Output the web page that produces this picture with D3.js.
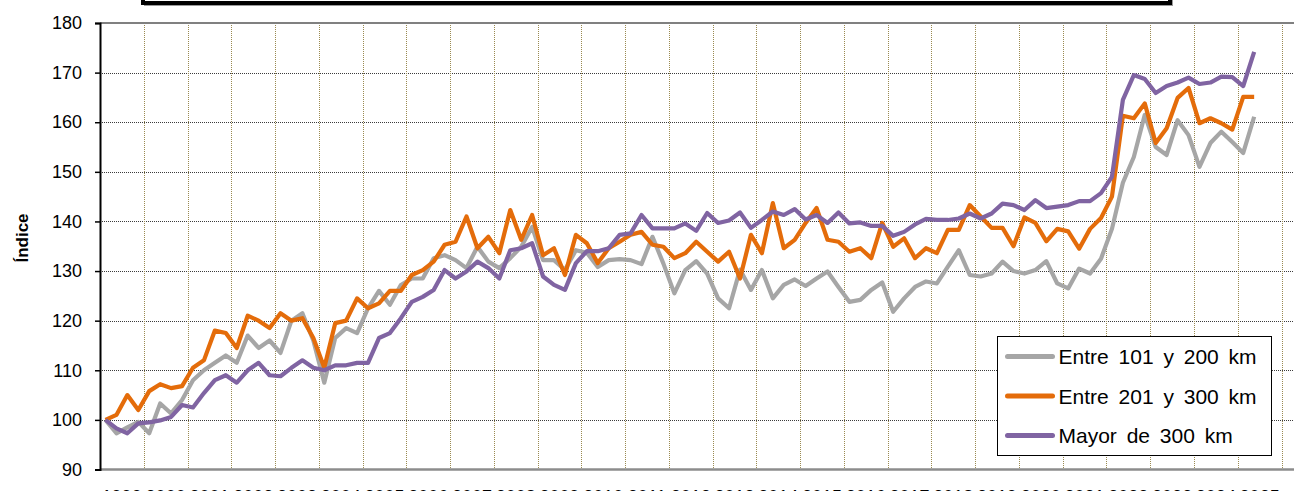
<!DOCTYPE html>
<html lang="es">
<head>
<meta charset="UTF-8">
<title>Índice por distancia</title>
<script src="https://d3js.org/d3.v7.min.js"></script>
<style>
  body { margin: 0; background: #fff; }
  svg { display: block; font-family: "Liberation Sans", Arial, sans-serif; }
  .grid-y line { stroke: #3c3c3c; stroke-dasharray: 1,1; }
  .grid-x line { stroke: #9a8a50; stroke-dasharray: 1,1; }
</style>
</head>
<body>
<svg width="1294" height="491"></svg>
<script>
// años del eje (una etiqueta por año, cuatro trimestres cada uno)
const years = d3.range(1999, 2027);
const quarters = years.flatMap(y => ["I", "II", "III", "IV"].map(q => y + "-" + q)).slice(0, 110);

const yTicks = [90, 100, 110, 120, 130, 140, 150, 160, 170, 180];

const entre101_200 = [
  100, 97.3, 98.5, 99.6, 97.3, 103.3, 101.3, 104, 108, 110,
  111.5, 113, 111.5, 117, 114.5, 116, 113.5, 120, 121.5, 116,
  107.5, 116.5, 118.5, 117.5, 122.5, 126, 123.2, 127.2, 128.5, 128.5,
  132.6, 133.2, 132.2, 130.6, 134.9, 131.9, 130.6, 132.6, 134.9, 138.9,
  132.2, 132.2, 130.2, 134.2, 133.7, 130.8, 132.2, 132.4, 132.2, 131.4,
  136.9, 131.5, 125.5, 130.2, 132, 129.5, 124.5, 122.5, 130.3, 126.2,
  130.2, 124.5, 127.2, 128.3, 127, 128.5, 129.9, 126.8, 123.8, 124.2,
  126.2, 127.7, 121.8, 124.5, 126.8, 127.9, 127.5, 130.9, 134.2, 129.2,
  128.9, 129.5, 131.9, 130, 129.5, 130.2, 132, 127.5, 126.5, 130.5,
  129.5, 132.5, 138.5, 147.8, 153, 161.5, 155, 153.4, 160.4, 157.4,
  151, 155.8, 158.1, 156, 153.8, 161.1
];

const entre201_300 = [
  100, 101, 105, 102, 105.8, 107.2, 106.4, 106.8, 110.5, 112,
  118, 117.5, 114.5, 121, 120, 118.5, 121.5, 120, 120.5, 116.5,
  110.5, 119.5, 120, 124.5, 122.5, 123.5, 126, 126, 129.2, 130.2,
  131.9, 135.3, 135.9, 141, 134.6, 136.9, 133.6, 142.3, 136.3, 141.3,
  133.2, 134.6, 129.2, 137.3, 135.6, 131.6, 134.6, 135.9, 137.3, 137.9,
  135.3, 134.9, 132.6, 133.6, 135.9, 133.9, 131.9, 133.9, 128.5, 137.3,
  133.6, 143.7, 134.6, 136.3, 139.7, 142.7, 136.3, 135.9, 133.9, 134.6,
  132.6, 139.7, 134.9, 136.6, 132.6, 134.6, 133.6, 138.3, 138.3, 143.3,
  141, 138.7, 138.7, 135, 140.8, 139.7, 136, 138.5, 138, 134.5,
  138.5, 140.7, 145, 161.3, 160.8, 163.8, 155.8, 158.8, 164.9, 166.9,
  159.8, 160.8, 159.8, 158.5, 165.1, 165.1
];

const mayor300 = [
  100, 98.3, 97.3, 99.3, 99.5, 99.9, 100.6, 103, 102.5, 105.4,
  108, 109, 107.5, 110, 111.5, 109, 108.8, 110.5, 112, 110.5,
  110, 111, 111, 111.5, 111.5, 116.5, 117.5, 120.5, 123.8, 124.8,
  126.2, 130.2, 128.5, 129.9, 131.9, 130.6, 128.5, 134.2, 134.6, 135.6,
  128.9, 127.2, 126.2, 131.6, 134, 134, 134.6, 137.3, 137.6, 141.3,
  138.6, 138.6, 138.6, 139.6, 138.1, 141.7, 139.7, 140.2, 141.8, 138.7,
  140.3, 142, 141.3, 142.5, 140.4, 141.3, 139.7, 141.8, 139.6, 139.8,
  139.1, 139.1, 137.1, 137.9, 139.4, 140.5, 140.3, 140.3, 140.6, 141.6,
  140.6, 141.6, 143.6, 143.3, 142.3, 144.3, 142.7, 143, 143.3, 144.1,
  144.1, 145.7, 149, 164.5, 169.5, 168.7, 165.9, 167.3, 168, 169,
  167.7, 168, 169.2, 169.1, 167.3, 174.2
];

const series = [
  { name: "Entre 101 y 200 km", values: entre101_200, color: "#a6a6a6" },
  { name: "Entre 201 y 300 km", values: entre201_300, color: "#e46c0a" },
  { name: "Mayor de 300 km", values: mayor300, color: "#8064a2" }
];

const svg = d3.select("svg");
const mLeft = 100, mTop = 23, mBottom = 469.5;
const step = 43.76 / 4;

const x = d3.scaleBand()
  .domain(quarters)
  .range([mLeft, mLeft + quarters.length * step])
  .padding(0);

const y = d3.scaleLinear()
  .domain([90, 180])
  .range([mBottom, mTop]);

// cuadrícula horizontal
svg.append("g").attr("class", "grid-y")
  .selectAll("line")
  .data(yTicks.slice(1, -1))
  .enter().append("line")
  .attr("x1", mLeft).attr("x2", 1294)
  .attr("y1", d => Math.round(y(d)) + 0.5).attr("y2", d => Math.round(y(d)) + 0.5);

// cuadrícula vertical, una línea por año
svg.append("g").attr("class", "grid-x")
  .selectAll("line")
  .data(quarters.filter((q, i) => i > 0 && i % 4 === 0))
  .enter().append("line")
  .attr("x1", d => Math.round(x(d)) + 0.5).attr("x2", d => Math.round(x(d)) + 0.5)
  .attr("y1", mTop).attr("y2", mBottom);

// borde superior y eje inferior
svg.append("line")
  .attr("x1", mLeft).attr("x2", 1294)
  .attr("y1", y(180)).attr("y2", y(180))
  .attr("stroke", "#808080").attr("stroke-width", 2);

svg.append("line")
  .attr("x1", mLeft).attr("x2", 1294)
  .attr("y1", y(90)).attr("y2", y(90))
  .attr("stroke", "#8c8c8c").attr("stroke-width", 2.5);

// eje Y
const yAxis = svg.append("g")
  .attr("transform", `translate(${mLeft},0)`)
  .call(d3.axisLeft(y).tickValues(yTicks).tickSize(5).tickPadding(13));
yAxis.select(".domain").attr("stroke", "#000").attr("stroke-width", 2);
yAxis.selectAll(".tick line").attr("stroke", "#000").attr("stroke-width", 1.5);
yAxis.selectAll(".tick text")
  .attr("font-size", 18)
  .attr("font-family", "Liberation Sans, Arial, sans-serif")
  .attr("fill", "#000");

svg.append("text")
  .attr("transform", "translate(28,238) rotate(-90)")
  .attr("text-anchor", "middle")
  .attr("font-size", 17)
  .attr("font-weight", "bold")
  .text("Índice");

// etiquetas de años (cortadas por el borde inferior, como en el original)
svg.append("g")
  .selectAll("text")
  .data(years.slice(0, 27))
  .enter().append("text")
  .attr("x", d => x(d + "-III"))
  .attr("y", 502.5)
  .attr("text-anchor", "middle")
  .attr("font-size", 18)
  .text(d => d);

// series
const line = d3.line()
  .x((d, i) => x(quarters[i]) + x.bandwidth() / 2)
  .y(d => y(d));

svg.append("g")
  .selectAll("path")
  .data(series)
  .enter().append("path")
  .attr("d", d => line(d.values))
  .attr("fill", "none")
  .attr("stroke", d => d.color)
  .attr("stroke-width", 4.2)
  .attr("stroke-linejoin", "round");

// recuadro del título (cortado arriba)
svg.append("rect")
  .attr("x", 145).attr("y", -40)
  .attr("width", 1027).attr("height", 45)
  .attr("fill", "none").attr("stroke", "#9a9a9a").attr("stroke-width", 2);
svg.append("rect")
  .attr("x", 143).attr("y", -40)
  .attr("width", 1027).attr("height", 43)
  .attr("fill", "#fff").attr("stroke", "#000").attr("stroke-width", 4);

// leyenda
const legend = svg.append("g").attr("transform", "translate(997.5,336.5)");
legend.append("rect")
  .attr("width", 274).attr("height", 119)
  .attr("fill", "#fff").attr("stroke", "#000").attr("stroke-width", 1);

const item = legend.selectAll(".legend-item")
  .data(series)
  .enter().append("g")
  .attr("class", "legend-item")
  .attr("transform", (d, i) => `translate(0,${20 + i * 39.5})`);

item.append("line")
  .attr("x1", 10).attr("x2", 55)
  .attr("stroke", d => d.color)
  .attr("stroke-width", 5)
  .attr("stroke-linecap", "round");

item.append("text")
  .attr("x", 61).attr("y", 7.5)
  .attr("font-size", 21)
  .attr("word-spacing", 4)
  .text(d => d.name);
</script>
</body>
</html>
